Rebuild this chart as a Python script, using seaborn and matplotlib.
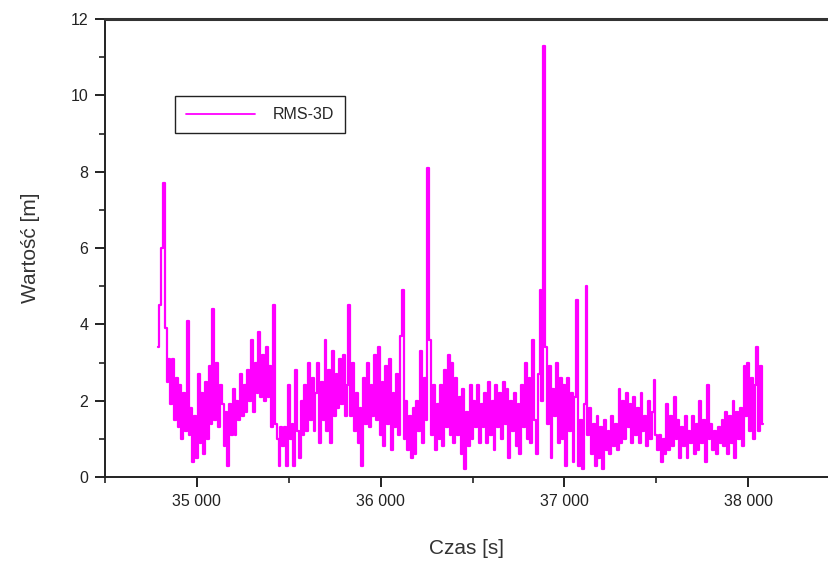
import numpy as np
import pandas as pd
import matplotlib
matplotlib.use("Agg")
import matplotlib.pyplot as plt
import seaborn as sns
from matplotlib.ticker import MultipleLocator, FuncFormatter

# RMS-3D values, one every 10 s starting at 34 790 s
t_start = 34790
t_step = 10
rms_3d = [
    3.4, 4.5, 6.0, 7.7, 3.9, 2.5, 3.1, 1.9, 3.1, 1.5,
    2.6, 1.3, 2.4, 1.0, 2.2, 1.2, 4.1, 1.1, 1.8, 0.4,
    1.6, 0.5, 2.7, 0.9, 2.2, 0.6, 2.5, 1.0, 2.9, 1.4,
    4.4, 1.5, 3.0, 1.3, 2.4, 1.9, 0.8, 1.7, 0.3, 1.9,
    1.1, 2.3, 1.1, 2.0, 1.5, 2.7, 1.6, 2.4, 1.7, 2.8,
    2.0, 3.6, 1.7, 3.0, 2.2, 3.8, 2.1, 3.2, 2.0, 3.4,
    2.1, 2.9, 1.3, 4.5, 1.4, 1.0, 0.3, 1.3, 0.8, 1.3,
    0.3, 2.4, 1.0, 1.4, 0.3, 2.8, 1.2, 0.5, 2.0, 1.1,
    2.4, 1.2, 3.0, 1.5, 2.6, 1.2, 2.2, 3.0, 0.9, 2.5,
    1.5, 3.6, 1.2, 2.8, 0.9, 3.3, 1.6, 2.7, 1.8, 3.1,
    1.9, 3.2, 1.6, 2.4, 4.5, 1.6, 3.0, 1.2, 2.2, 0.9,
    1.8, 0.3, 2.6, 1.4, 3.0, 1.3, 2.4, 1.6, 3.2, 1.5,
    3.4, 1.1, 2.5, 0.8, 2.9, 1.4, 3.1, 0.7, 2.2, 1.3,
    2.7, 1.1, 3.7, 4.9, 1.0, 2.0, 0.7, 1.6, 0.5, 1.8,
    0.6, 2.0, 1.2, 3.3, 0.9, 2.6, 1.5, 8.1, 3.6, 1.1,
    2.4, 0.7, 1.9, 1.0, 2.4, 0.8, 2.8, 1.3, 3.2, 1.1,
    3.0, 0.9, 2.6, 1.1, 2.1, 0.6, 2.3, 0.2, 1.7, 0.8,
    2.4, 1.0, 2.0, 1.3, 2.4, 0.9, 1.9, 1.3, 2.2, 0.9,
    2.5, 1.1, 2.0, 0.7, 2.4, 1.3, 2.2, 1.0, 2.5, 1.4,
    2.3, 0.5, 2.0, 1.2, 2.2, 0.8, 1.9, 0.6, 2.4, 1.3,
    3.0, 1.0, 2.6, 0.9, 3.6, 1.5, 0.6, 2.7, 4.9, 2.0,
    11.3, 3.4, 1.4, 2.9, 0.5, 2.3, 1.6, 3.0, 0.9, 2.6,
    1.0, 2.4, 0.3, 2.6, 1.2, 2.2, 0.4, 2.1, 4.65, 0.3,
    1.5, 0.2, 1.9, 5.0, 1.1, 1.8, 0.6, 1.4, 0.3, 1.6,
    0.5, 1.3, 0.2, 1.5, 0.7, 1.2, 0.6, 1.6, 0.8, 1.4,
    0.7, 2.3, 0.9, 2.0, 1.0, 2.2, 1.3, 1.9, 0.9, 2.1,
    1.1, 1.8, 0.9, 2.2, 1.2, 1.6, 0.8, 2.0, 1.0, 1.7,
    2.55, 1.1, 0.7, 1.1, 0.4, 1.0, 0.6, 1.9, 0.7, 1.6,
    0.8, 2.1, 1.0, 1.5, 0.5, 1.3, 0.8, 1.6, 0.5, 1.2,
    0.9, 1.6, 0.6, 1.4, 0.7, 2.0, 0.9, 1.5, 0.4, 2.4,
    1.0, 1.4, 0.7, 1.2, 0.6, 1.3, 0.9, 1.5, 0.8, 1.7,
    0.6, 1.6, 0.9, 2.0, 0.5, 1.7, 1.0, 1.8, 0.8, 2.9,
    1.6, 3.0, 1.2, 2.6, 1.0, 2.4, 3.4, 1.2, 2.9, 1.4,
]
czas = t_start + t_step * np.arange(len(rms_3d))
df = pd.DataFrame({"Czas": czas, "RMS-3D": rms_3d})

sns.set_theme(style="ticks")
plt.rcParams["font.family"] = ["Liberation Sans", "DejaVu Sans"]

fig = plt.figure(figsize=(8.29, 5.64), dpi=100)
ax = fig.add_axes([105 / 829, 87 / 564, 724 / 829, 458 / 564])

sns.lineplot(data=df, x="Czas", y="RMS-3D", color="#ff00ff", linewidth=1.6,
             drawstyle="steps-mid", label="RMS-3D", ax=ax)

ax.set_xlim(34500, 38440)
ax.set_ylim(0, 12)
ax.xaxis.set_major_locator(MultipleLocator(1000))
ax.xaxis.set_minor_locator(MultipleLocator(500))
ax.yaxis.set_major_locator(MultipleLocator(2))
ax.yaxis.set_minor_locator(MultipleLocator(1))
ax.xaxis.set_major_formatter(FuncFormatter(lambda v, p: f"{int(v):,}".replace(",", " ")))

ax.tick_params(which="major", direction="out", length=7, width=1.4,
               colors="#222222", labelsize=11.5, pad=5)
ax.tick_params(which="minor", direction="out", length=4, width=1.2, colors="#222222")
ax.tick_params(top=False, right=False, which="both")

for side in ["left", "bottom"]:
    ax.spines[side].set_color("#222222")
    ax.spines[side].set_linewidth(1.4)
ax.spines["top"].set_color("#333333")
ax.spines["top"].set_linewidth(2.2)
ax.spines["right"].set_visible(False)

ax.set_xlabel("Czas [s]", fontsize=15, color="#333333", labelpad=22)
ax.set_ylabel("Wartość [m]", fontsize=15, color="#333333", labelpad=22)

leg = ax.legend(loc="upper left", bbox_to_anchor=(0.0967, 0.832), borderaxespad=0,
                fontsize=11.5, handlelength=4.3, handletextpad=1.1, borderpad=0.7,
                fancybox=False, framealpha=1, edgecolor="#222222")
leg.get_frame().set_linewidth(1.0)
for line in leg.get_lines():
    line.set_linewidth(1.3)

fig.savefig("out.png", dpi=100)
